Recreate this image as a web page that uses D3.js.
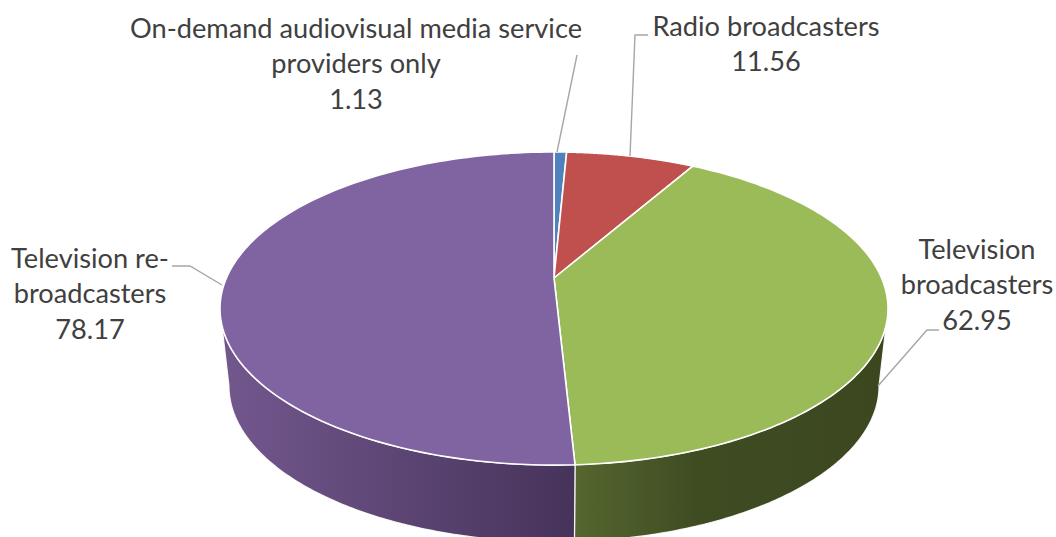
<!DOCTYPE html>
<html><head><meta charset="utf-8">
<script src="https://cdn.jsdelivr.net/npm/d3@7/dist/d3.min.js"></script>
<style>html,body{margin:0;padding:0;background:#fff}svg{display:block}text{font-family:Lato,"Open Sans",sans-serif;font-size:27.2px;fill:#404040;text-anchor:middle}</style>
</head><body><svg id="c" width="1056" height="537"></svg>
<script>
const categories=["On-demand audiovisual media service providers only","Radio broadcasters","Television broadcasters","Television re-broadcasters"];
const values=[1.13,11.56,62.95,78.17];
const colors=["#4f81bd","#c0504d","#9bbb59","#8064a2"];
const labelLines=[["On-demand audiovisual media service","providers only","1.13"],["Radio broadcasters","11.56"],["Television","broadcasters","62.95"],["Television re-","broadcasters","78.17"]];
const labelAnchor=[[356,38],[766,36],[977,259],[90,268]];
const leaders=[[[557,152],[577,55]],[[630,156],[635,35],[648,35]],[[878,386],[927,330],[939,330]],[[222,285],[190,266],[172,266]]];

const svg=d3.select("#c");
const W=Math.PI*2, k=0.195;
const topFace={cx:554,cy:278,a:327.6,b:150.6}, botFace={cx:554,cy:355.5,a:318.8,b:150.0};
const proj=(t,g)=>{const x=Math.sin(t),y=-Math.cos(t),w=1-k*y;return [g.cx+g.a*x/w,g.cy+g.b*y/w];};
const arcs=d3.pie().sort(null).value(d=>d)(values);
const samples=(a,b)=>d3.range(0,121).map(i=>a+(b-a)*i/120);
const line=d3.line();
const tR=Math.acos(-k), tL=W-tR;

const defs=svg.append("defs");
function grad(id,x1,x2,stops){
  const g=defs.append("linearGradient").attr("id",id).attr("gradientUnits","userSpaceOnUse")
    .attr("x1",x1).attr("x2",x2).attr("y1",0).attr("y2",0);
  stops.forEach(s=>g.append("stop").attr("offset",s[0]).attr("stop-color",s[1]));
}
grad("gP",225,575,[[0,"#72578d"],[1,"#46335a"]]);
grad("gG",575,880,[[0,"#55662f"],[0.4,"#3f4c22"],[1,"#3c4720"]]);

const side=(a,b,fill)=>{
  const ts=samples(a,b);
  const pts=ts.map(t=>proj(t,topFace)).concat(ts.slice().reverse().map(t=>proj(t,botFace)));
  svg.append("path").attr("d",line(pts)+"Z").attr("fill",fill).attr("stroke","#fff").attr("stroke-width",1.2).attr("stroke-opacity",0.9);
};
side(Math.max(arcs[2].startAngle,tR),arcs[2].endAngle,"url(#gG)");
side(arcs[3].startAngle,tL,"url(#gP)");

arcs.forEach((d,i)=>{
  const pts=[[topFace.cx,topFace.cy]].concat(samples(d.startAngle,d.endAngle).map(t=>proj(t,topFace)));
  svg.append("path").attr("d",line(pts)+"Z").attr("fill",colors[i]).attr("stroke","#fff").attr("stroke-width",1.6).attr("stroke-linejoin","round");
});

leaders.forEach(l=>svg.append("path").attr("d",line(l)).attr("fill","none").attr("stroke","#a6a6a6").attr("stroke-width",1.4));

labelLines.forEach((ls,i)=>{
  ls.forEach((s,j)=>svg.append("text").attr("x",labelAnchor[i][0]).attr("y",labelAnchor[i][1]+j*35.3).text(s));
});
</script></body></html>
